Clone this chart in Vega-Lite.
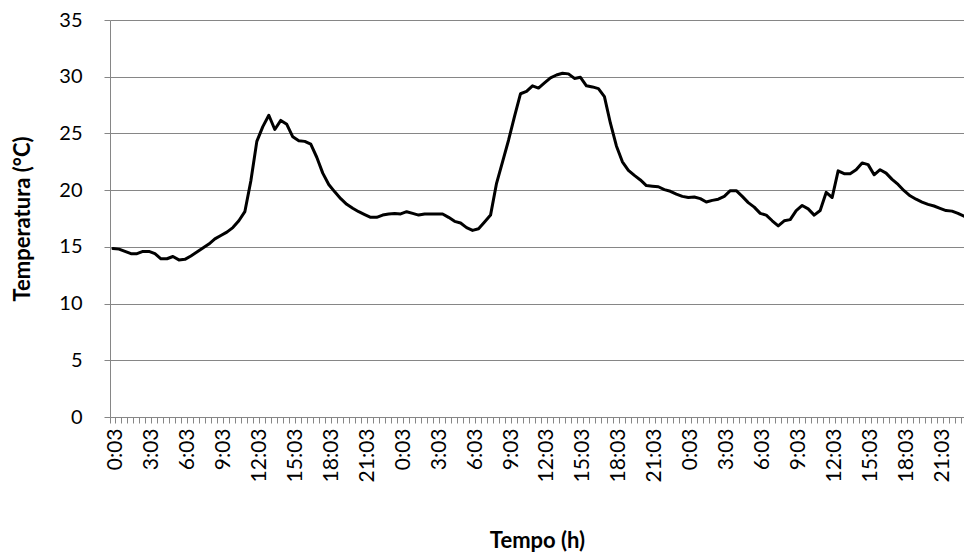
{
  "$schema": "https://vega.github.io/schema/vega-lite/v6.json",
  "width": 854,
  "height": 397,
  "autosize": {"type": "none"},
  "padding": {"left": 110, "top": 20, "right": 0, "bottom": 141},
  "background": "white",
  "config": {
    "view": {"stroke": null},
    "font": "Lato"
  },
  "data": {
    "values": [
      {"i":0,"v":14.85},{"i":1,"v":14.8},{"i":2,"v":14.6},{"i":3,"v":14.4},{"i":4,"v":14.4},{"i":5,"v":14.6},
      {"i":6,"v":14.6},{"i":7,"v":14.4},{"i":8,"v":13.95},{"i":9,"v":13.95},{"i":10,"v":14.15},{"i":11,"v":13.85},
      {"i":12,"v":13.9},{"i":13,"v":14.2},{"i":14,"v":14.55},{"i":15,"v":14.9},{"i":16,"v":15.25},{"i":17,"v":15.7},
      {"i":18,"v":16.0},{"i":19,"v":16.3},{"i":20,"v":16.7},{"i":21,"v":17.3},{"i":22,"v":18.1},{"i":23,"v":20.8},
      {"i":24,"v":24.3},{"i":25,"v":25.6},{"i":26,"v":26.6},{"i":27,"v":25.35},{"i":28,"v":26.15},{"i":29,"v":25.8},
      {"i":30,"v":24.7},{"i":31,"v":24.35},{"i":32,"v":24.3},{"i":33,"v":24.05},{"i":34,"v":22.9},{"i":35,"v":21.5},
      {"i":36,"v":20.5},{"i":37,"v":19.85},{"i":38,"v":19.25},{"i":39,"v":18.75},{"i":40,"v":18.4},{"i":41,"v":18.1},
      {"i":42,"v":17.85},{"i":43,"v":17.6},{"i":44,"v":17.6},{"i":45,"v":17.8},{"i":46,"v":17.9},{"i":47,"v":17.95},
      {"i":48,"v":17.9},{"i":49,"v":18.1},{"i":50,"v":17.95},{"i":51,"v":17.8},{"i":52,"v":17.9},{"i":53,"v":17.9},
      {"i":54,"v":17.9},{"i":55,"v":17.9},{"i":56,"v":17.6},{"i":57,"v":17.25},{"i":58,"v":17.1},{"i":59,"v":16.7},
      {"i":60,"v":16.45},{"i":61,"v":16.6},{"i":62,"v":17.2},{"i":63,"v":17.8},{"i":64,"v":20.6},{"i":65,"v":22.5},
      {"i":66,"v":24.4},{"i":67,"v":26.5},{"i":68,"v":28.5},{"i":69,"v":28.7},{"i":70,"v":29.2},{"i":71,"v":29.0},
      {"i":72,"v":29.45},{"i":73,"v":29.9},{"i":74,"v":30.15},{"i":75,"v":30.3},{"i":76,"v":30.25},{"i":77,"v":29.85},
      {"i":78,"v":29.95},{"i":79,"v":29.2},{"i":80,"v":29.1},{"i":81,"v":28.95},{"i":82,"v":28.25},{"i":83,"v":25.9},
      {"i":84,"v":23.9},{"i":85,"v":22.5},{"i":86,"v":21.75},{"i":87,"v":21.3},{"i":88,"v":20.9},{"i":89,"v":20.4},
      {"i":90,"v":20.35},{"i":91,"v":20.3},{"i":92,"v":20.05},{"i":93,"v":19.9},{"i":94,"v":19.65},{"i":95,"v":19.45},
      {"i":96,"v":19.35},{"i":97,"v":19.4},{"i":98,"v":19.25},{"i":99,"v":18.95},{"i":100,"v":19.1},{"i":101,"v":19.2},
      {"i":102,"v":19.45},{"i":103,"v":19.95},{"i":104,"v":19.95},{"i":105,"v":19.45},{"i":106,"v":18.9},{"i":107,"v":18.5},
      {"i":108,"v":17.95},{"i":109,"v":17.8},{"i":110,"v":17.3},{"i":111,"v":16.85},{"i":112,"v":17.3},{"i":113,"v":17.4},
      {"i":114,"v":18.2},{"i":115,"v":18.65},{"i":116,"v":18.35},{"i":117,"v":17.8},{"i":118,"v":18.2},{"i":119,"v":19.8},
      {"i":120,"v":19.35},{"i":121,"v":21.7},{"i":122,"v":21.45},{"i":123,"v":21.45},{"i":124,"v":21.8},{"i":125,"v":22.4},
      {"i":126,"v":22.25},{"i":127,"v":21.35},{"i":128,"v":21.8},{"i":129,"v":21.5},{"i":130,"v":20.95},{"i":131,"v":20.5},
      {"i":132,"v":19.95},{"i":133,"v":19.5},{"i":134,"v":19.2},{"i":135,"v":18.95},{"i":136,"v":18.75},{"i":137,"v":18.6},
      {"i":138,"v":18.4},{"i":139,"v":18.2},{"i":140,"v":18.15},{"i":141,"v":17.95},{"i":142,"v":17.7}
    ]
  },
  "mark": {"type": "line", "color": "#000000", "strokeWidth": 3, "strokeJoin": "round", "strokeCap": "round"},
  "encoding": {
    "x": {
      "field": "i",
      "type": "ordinal",
      "bandPosition": 0.5,
      "scale": {"type": "band", "paddingInner": 0, "paddingOuter": 0, "range": [0, 857]},
      "axis": {
        "title": "Tempo (h)",
        "titleFont": "Lato",
        "titleFontSize": 22,
        "titleFontWeight": "bold",
        "titleColor": "#000000",
        "titleX": 427,
        "titleY": 123,
        "titleBaseline": "middle",
        "bandPosition": 0,
        "labelExpr": "datum.value % 6 == 0 ? (floor(datum.value / 2) % 24) + ':03' : ''",
        "labelAngle": -90,
        "labelFont": "Lato",
        "labelFontSize": 21,
        "labelColor": "#000000",
        "labelOffset": 3,
        "labelPadding": 5,
        "labelOverlap": false,
        "labelBound": false,
        "tickColor": "#868686",
        "tickSize": 6,
        "domainColor": "#868686",
        "domainWidth": 1,
        "grid": false
      }
    },
    "y": {
      "field": "v",
      "type": "quantitative",
      "scale": {"domain": [0, 35], "nice": false, "zero": true},
      "axis": {
        "values": [0, 5, 10, 15, 20, 25, 30, 35],
        "title": "Temperatura (°C)",
        "titleFont": "Lato",
        "titleFontSize": 22,
        "titleFontWeight": "bold",
        "titleColor": "#000000",
        "titleX": -88,
        "titleY": 198.5,
        "titleAngle": -90,
        "titleBaseline": "middle",
        "titleAlign": "center",
        "labelFont": "Lato",
        "labelFontSize": 20,
        "labelColor": "#000000",
        "labelPadding": 22,
        "tickColor": "#868686",
        "tickSize": 6,
        "domainColor": "#868686",
        "grid": true,
        "gridColor": "#868686",
        "gridWidth": 1
      }
    }
  }
}
